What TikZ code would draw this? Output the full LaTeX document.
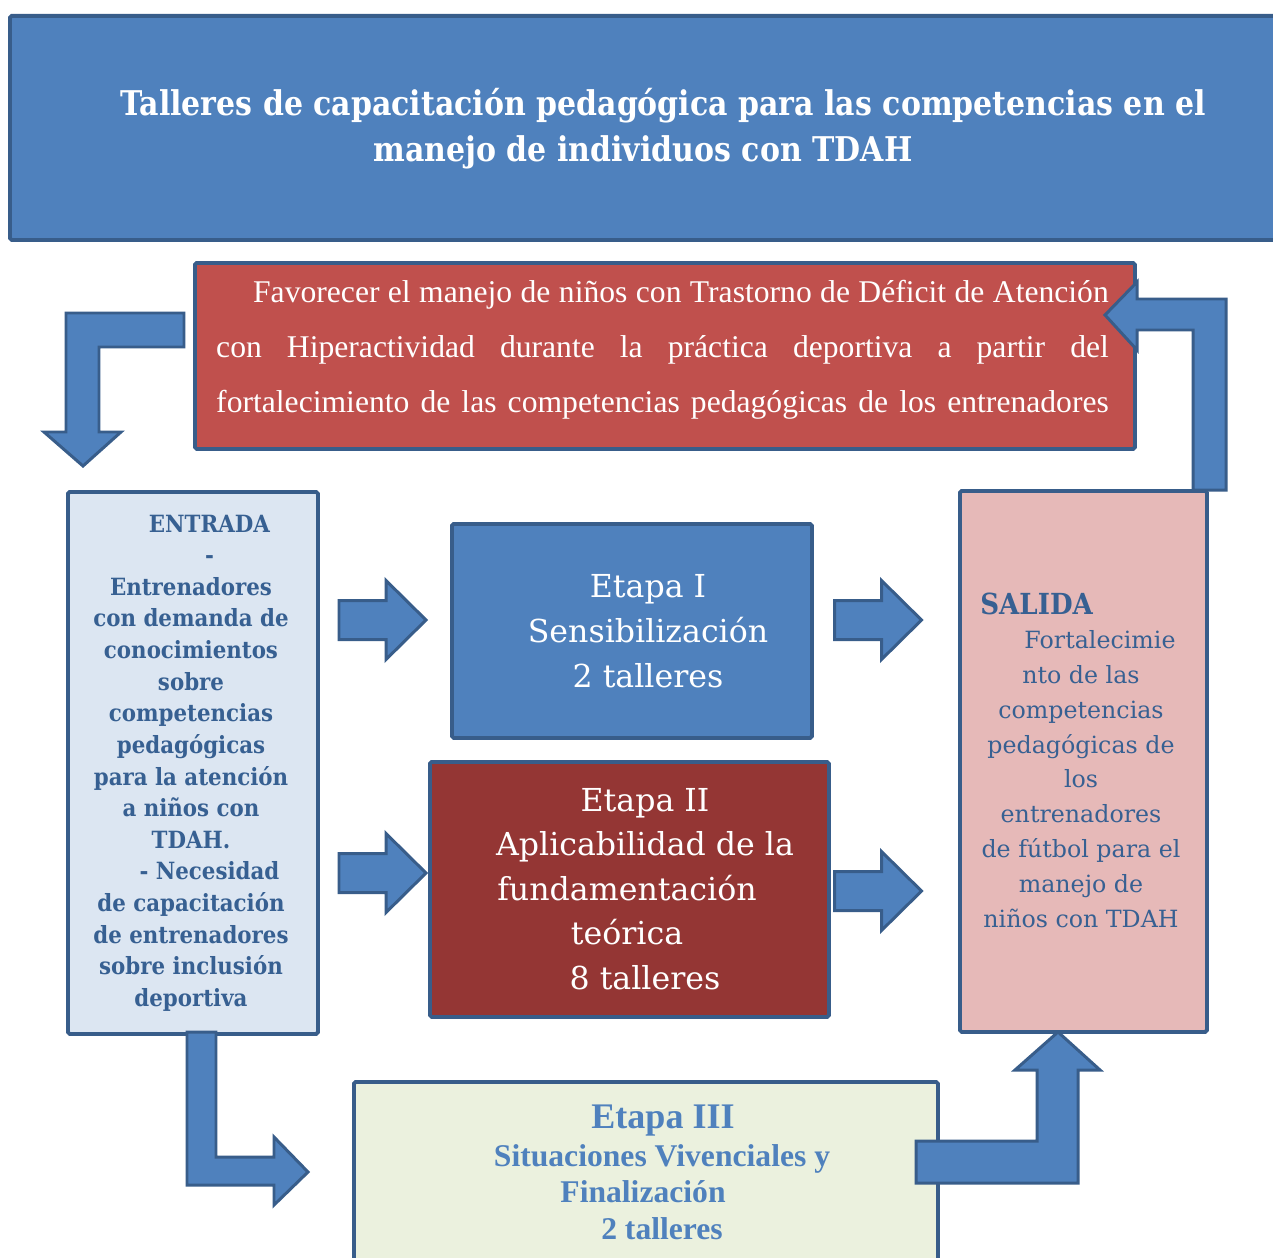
\documentclass[tikz,border=0pt]{standalone}
\usepackage{fontspec}
\setmainfont{Liberation Serif}
\newfontfamily\cam[FakeStretch=0.9]{DejaVu Serif}
\newfontfamily\camt[FakeStretch=0.88]{DejaVu Serif}
\newfontfamily\camn{DejaVu Serif}
\definecolor{bfill}{HTML}{4F81BD}
\definecolor{bline}{HTML}{385D8A}
\definecolor{rfill}{HTML}{C0504D}
\definecolor{drfill}{HTML}{943634}
\definecolor{efill}{HTML}{DCE6F2}
\definecolor{sfill}{HTML}{E6B9B8}
\definecolor{gfill}{HTML}{EBF1DE}
\definecolor{dtext}{HTML}{376092}
\begin{document}
\begin{tikzpicture}[x=0.02cm,y=-0.02cm,
  box/.style={draw=bline,line width=2.2pt,rounded corners=1pt,inner sep=0pt,anchor=north west},
  barrow/.style={draw=bline,fill=bfill,line width=1.7pt,line join=miter},
  rarr/.pic={\draw[barrow] (-43.5,-19.5) -- (3.5,-19.5) -- (3.5,-39.5) -- (43.5,0) -- (3.5,39.5) -- (3.5,19.5) -- (-43.5,19.5) -- cycle;}]
\useasboundingbox (0,0) rectangle (1273,1257);
\clip (0,0) rectangle (1273,1257);
\fill[white] (0,0) rectangle (1273,1257);

% boxes
\node[box, fill=bfill, minimum width=1290*0.02cm, minimum height=224*0.02cm] (title) at (8,14) {};
\node[box, fill=rfill, minimum width=940*0.02cm, minimum height=186*0.02cm] (goal) at (193,261) {};
\node[box, fill=efill, minimum width=250*0.02cm, minimum height=542*0.02cm] (entrada) at (66,490) {};
\node[box, fill=sfill, minimum width=247*0.02cm, minimum height=541*0.02cm] (salida) at (958,489) {};
\node[box, fill=bfill, minimum width=360*0.02cm, minimum height=214*0.02cm] (etapa1) at (450,522) {};
\node[box, fill=drfill, minimum width=399*0.02cm, minimum height=255*0.02cm] (etapa2) at (428,760) {};
\node[box, fill=gfill, minimum width=584*0.02cm, minimum height=200*0.02cm] (etapa3) at (352,1080) {};

% texts
\node[text=white, align=center, inner sep=0pt, font=\camt\bfseries\fontsize{19.4}{26.2}\selectfont] (titletext) at (663,129)
  {Talleres de capacitación pedagógica para las competencias en el\\manejo de individuos con TDAH\hspace*{22.8pt}};

\node[text=white, align=left, inner sep=0pt, font=\fontsize{18}{31.3}\selectfont] (goaltext) at (662.5,350)
  {\hspace*{21pt}\makebox[487pt][s]{Favorecer el manejo de niños con Trastorno de Déficit de Atención}\\
   \makebox[508pt][s]{con Hiperactividad durante la práctica deportiva a partir del}\\
   \makebox[508pt][s]{fortalecimiento de las competencias pedagógicas de los entrenadores}};

\node[text=dtext, align=center, inner sep=0pt, font=\cam\bfseries\fontsize{13.5}{18}\selectfont] (entradatext) at (191,763)
  {\hspace*{21pt}ENTRADA\\\hspace*{21pt}-\\Entrenadores\\con demanda de\\conocimientos\\sobre\\competencias\\pedagógicas\\para la atención\\a niños con\\TDAH.\\\hspace*{21pt}- Necesidad\\de capacitación\\de entrenadores\\sobre inclusión\\deportiva};

\node[text=dtext, anchor=west, inner sep=0pt, font=\cam\bfseries\fontsize{16.5}{20}\selectfont] (salidahead) at (980,604) {SALIDA};
\node[text=dtext, align=center, inner sep=0pt, font=\camn\fontsize{13.5}{19.8}\selectfont] (salidatext) at (1081,779)
  {\hspace*{21.6pt}Fortalecimie\\nto de las\\competencias\\pedagógicas de\\los\\entrenadores\\de fútbol para el\\manejo de\\niños con TDAH};

\node[text=white, align=center, inner sep=0pt, font=\camn\fontsize{18}{25.6}\selectfont] (e1text) at (648,631)
  {Etapa I\\Sensibilización\\2 talleres};

\node[text=white, align=center, inner sep=0pt, font=\camn\fontsize{18}{25.3}\selectfont] (e2text) at (645,889)
  {Etapa II\\Aplicabilidad de la\\fundamentación\rule{20.5pt}{0pt}\\teórica\rule{20.5pt}{0pt}\\8 talleres};

\node[text=bfill, anchor=base, inner sep=0pt, font=\bfseries\fontsize{20.5}{24}\selectfont] (e3a) at (663,1128) {Etapa III};
\node[text=bfill, anchor=base, inner sep=0pt, font=\bfseries\fontsize{18}{21}\selectfont] (e3b) at (662,1166) {Situaciones Vivenciales y};
\node[text=bfill, anchor=base, inner sep=0pt, font=\bfseries\fontsize{18}{21}\selectfont] (e3c) at (643,1202) {Finalización};
\node[text=bfill, anchor=base, inner sep=0pt, font=\bfseries\fontsize{18}{21}\selectfont] (e3d) at (662,1239) {2 talleres};

% bent block arrows
\draw[barrow] (184,313) -- (66,313) -- (66,432) -- (44,432) -- (83,466) -- (121,432) -- (99,432) -- (99,347) -- (184,347) -- cycle;
\draw[barrow] (1193,490) -- (1193,330) -- (1137,330) -- (1137,350) -- (1105,315) -- (1137,282) -- (1137,299) -- (1226,299) -- (1226,490) -- cycle;
\draw[barrow] (187,1032) -- (187,1185) -- (274,1185) -- (274,1205) -- (308,1172) -- (274,1137) -- (274,1157) -- (216,1157) -- (216,1032) -- cycle;
\draw[barrow] (916,1141) -- (916,1183) -- (1078,1183) -- (1078,1070) -- (1100,1070) -- (1058,1032) -- (1015,1070) -- (1037,1070) -- (1037,1141) -- cycle;

% straight block arrows
\pic (arrA) at (382.5,620) {rarr};
\pic (arrB) at (878,620) {rarr};
\pic (arrC) at (382.5,873) {rarr};
\pic (arrD) at (878,891) {rarr};
\end{tikzpicture}
\end{document}
